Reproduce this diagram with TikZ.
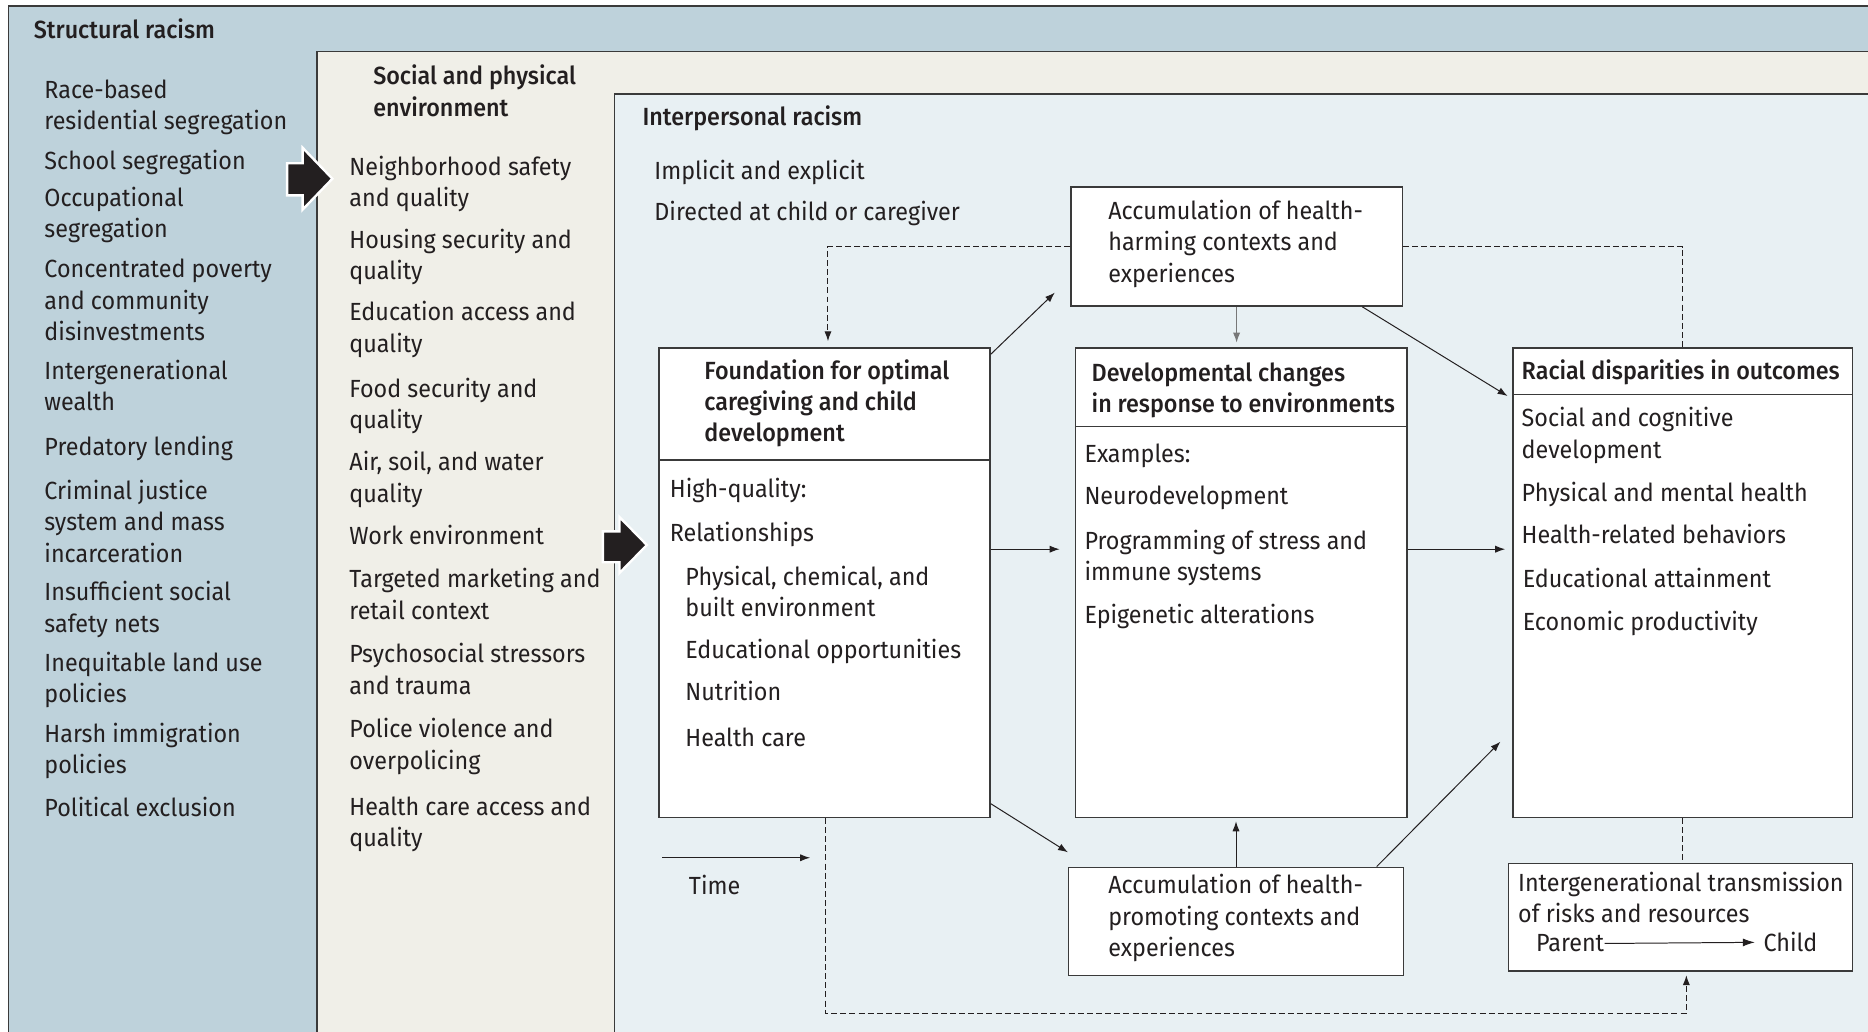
\documentclass[tikz,border=0pt]{standalone}
\usepackage{fontspec}
\setmainfont{Fira Sans}[FakeStretch=0.94]
\newfontfamily\headfont{Fira Sans Medium}[FakeStretch=0.94]
\usetikzlibrary{arrows.meta,calc,fit}

\definecolor{ink}{HTML}{231F20}
\definecolor{edge}{HTML}{3A3A3A}
\definecolor{structbg}{HTML}{BED2DB}
\definecolor{envbg}{HTML}{F0EFE8}
\definecolor{persbg}{HTML}{E8F0F3}
\definecolor{soft}{HTML}{777777}

\newcommand\bodysize{\fontsize{12.5pt}{15.8pt}\selectfont}
\newcommand\lead{\rule{0pt}{15pt}}
% text block whose first baseline sits at the given point
\newcommand\lbl[4][txt]{\node[#1] (#2) at (#3) {\lead #4};}
% rectangle box spanning two corners
\newcommand\boxat[3]{%
  \coordinate (#1-nw) at (#2); \coordinate (#1-se) at (#3);
  \node[box, fit=(#1-nw)(#1-se)] (#1) {};}

\tikzset{
  txt/.style={anchor=north west, inner sep=0pt, align=left, font=\bodysize,
    text=ink, yshift=15pt},
  hd/.style={txt, font=\bodysize\headfont},
  box/.style={draw=edge, line width=0.7pt, fill=white, inner sep=0pt},
  conn/.style={draw=ink, line width=0.5pt, -{Latex[length=5pt,width=3.6pt]}},
  dsh/.style={draw=ink, line width=0.5pt, dash pattern=on 3pt off 1.6pt},
  bigarrow/.style={fill=ink, draw=white, line width=1.2pt, line join=miter},
  frame/.style={draw=edge, line width=0.7pt},
}

\begin{document}
\begin{tikzpicture}[x=0.6pt, y=-0.6pt]
\useasboundingbox (0,0) rectangle (1568,866);
\clip (0,0) rectangle (1568,866);

% nested context frames
\path[frame, fill=structbg] (7,5) rectangle (1600,900);
\path[frame, fill=envbg] (266,43) rectangle (1600,900);
\path[frame, fill=persbg] (516,79) rectangle (1600,900);

% structural racism
\lbl[hd]{tS}{28,32}{Structural racism}
\lbl{s1}{37,82}{Race-based\\residential segregation}
\lbl{s2}{37,142}{School segregation}
\lbl{s3}{37,173}{Occupational\\segregation}
\lbl{s4}{37,233}{Concentrated poverty\\and community\\disinvestments}
\lbl{s5}{37,318}{Intergenerational\\wealth}
\lbl{s6}{37,382}{Predatory lending}
\lbl{s7}{37,419}{Criminal justice\\system and mass\\incarceration}
\lbl{s8}{37,504}{Insufficient social\\safety nets}
\lbl{s9}{37,563}{Inequitable land use\\policies}
\lbl{s10}{37,623}{Harsh immigration\\policies}
\lbl{s11}{37,685}{Political exclusion}

% social and physical environment
\lbl[hd]{tE}{313,71}{Social and physical\\environment}
\lbl{e1}{293,147}{Neighborhood safety\\and quality}
\lbl{e2}{293,208}{Housing security and\\quality}
\lbl{e3}{293,269}{Education access and\\quality}
\lbl{e4}{293,333}{Food security and\\quality}
\lbl{e5}{293,395}{Air, soil, and water\\quality}
\lbl{e6}{293,457}{Work environment}
\lbl{e7}{293,493}{Targeted marketing and\\retail context}
\lbl{e8}{293,556}{Psychosocial stressors\\and trauma}
\lbl{e9}{293,619}{Police violence and\\overpolicing}
\lbl{e10}{293,684}{Health care access and\\quality}

% interpersonal racism
\lbl[hd]{tI}{539,105}{Interpersonal racism}
\lbl{i1}{549,150}{Implicit and explicit}
\lbl{i2}{549,185}{Directed at child or caregiver}

% large block arrows
\path[bigarrow] (241,137) -- (254,137) -- (254,124) -- (279,150) -- (254,176)
  -- (254,164) -- (241,164) -- cycle;
\path[bigarrow] (506,446) -- (520,446) -- (520,434) -- (543,457.5) -- (520,481)
  -- (520,472) -- (506,472) -- cycle;

% boxes
\boxat{found}{553,292}{831,686}
\boxat{devel}{903,292}{1181,686}
\boxat{harm}{899,157}{1177,257}
\boxat{racial}{1270,292}{1555,686}
\boxat{promo}{897,728}{1178,819}
\boxat{inter}{1266,725}{1555,815}

\coordinate (fdiv) at (0,386);
\coordinate (ddiv) at (0,358);
\coordinate (rdiv) at (0,331);
\draw[edge, line width=0.7pt] (found.west |- fdiv) -- (found.east |- fdiv);
\draw[edge, line width=0.7pt] (devel.west |- ddiv) -- (devel.east |- ddiv);
\draw[edge, line width=0.7pt] (racial.west |- rdiv) -- (racial.east |- rdiv);

% solid connectors
\draw[conn] ($(found.north east)+(0,6)$) -- ($(harm.south west)+(-13,-12)$);
\draw[conn, draw=soft] (harm.south) -- ++(0,30);
\draw[conn] ($(harm.south east)+(-34,0)$) -- ($(racial.north west)+(-4,41)$);
\draw[conn] ($(found.east)+(0,-28)$) -- ($(devel.west)+(-13,-28)$);
\draw[conn] ($(devel.east)+(0,-28)$) -- ($(racial.west)+(-6,-28)$);
\draw[conn] ($(found.south east)+(0,-12)$) -- ($(promo.north west)+(0,-12)$);
\draw[conn] (promo.north) -- ++(0,-38);
\draw[conn] ($(promo.north east)+(-23,0)$) -- ($(racial.south west)+(-10,-64)$);

% dashed feedback paths
\draw[dsh, -{Latex[length=5pt,width=3.6pt]}] (harm.west) -| ($(found.north)+(3,-5)$);
\draw[dsh] (harm.east) -| (racial.north);
\draw[dsh] (racial.south) -- (racial.south |- inter.north);
\draw[dsh, -{Latex[length=5pt,width=3.6pt]}] ($(found.south)+(1,0)$) -- ++(0,164)
  -| ($(inter.south)+(5,3)$);

% time axis
\coordinate (t0) at (556,720);
\coordinate (t1) at (680,720);
\draw[conn] (t0) -- (t1);
\node[anchor=base west, inner sep=0pt, font=\bodysize, text=ink] (time) at (578,751) {Time};

% box contents
\lbl[hd]{fH}{591,318}{Foundation for optimal\\caregiving and child\\development}
\lbl{f1}{562,417}{High-quality:}
\lbl{f2}{562,454}{Relationships}
\lbl{f3}{575,491}{Physical, chemical, and\\built environment}
\lbl{f4}{575,552}{Educational opportunities}
\lbl{f5}{575,588}{Nutrition}
\lbl{f6}{575,626}{Health care}

\lbl[hd]{dH}{916,320}{Developmental changes\\in response to environments}
\lbl{d1}{910,388}{Examples:}
\lbl{d2}{910,423}{Neurodevelopment}
\lbl{d3}{910,461}{Programming of stress and\\immune systems}
\lbl{d4}{910,523}{Epigenetic alterations}

\lbl{hT}{930,184}{Accumulation of health-\\harming contexts and\\experiences}

\lbl[hd]{rH}{1277,318}{Racial disparities in outcomes}
\lbl{r1}{1277,358}{Social and cognitive\\development}
\lbl{r2}{1277,421}{Physical and mental health}
\lbl{r3}{1277,456}{Health-related behaviors}
\lbl{r4}{1278,493}{Educational attainment}
\lbl{r5}{1278,529}{Economic productivity}

\lbl{pT}{930,750}{Accumulation of health-\\promoting contexts and\\experiences}

\lbl{gT}{1274,748}{Intergenerational transmission\\of risks and resources}
\node[anchor=base west, inner sep=0pt, font=\bodysize, text=ink] (parent) at (1289,799) {Parent};
\node[anchor=base west, inner sep=0pt, font=\bodysize, text=ink] (child) at (1480,799) {Child};
\draw[conn, -{Latex[length=6pt,width=4pt]}] (parent.east) -- ($(child.west)+(-7,0)$);
\end{tikzpicture}
\end{document}
